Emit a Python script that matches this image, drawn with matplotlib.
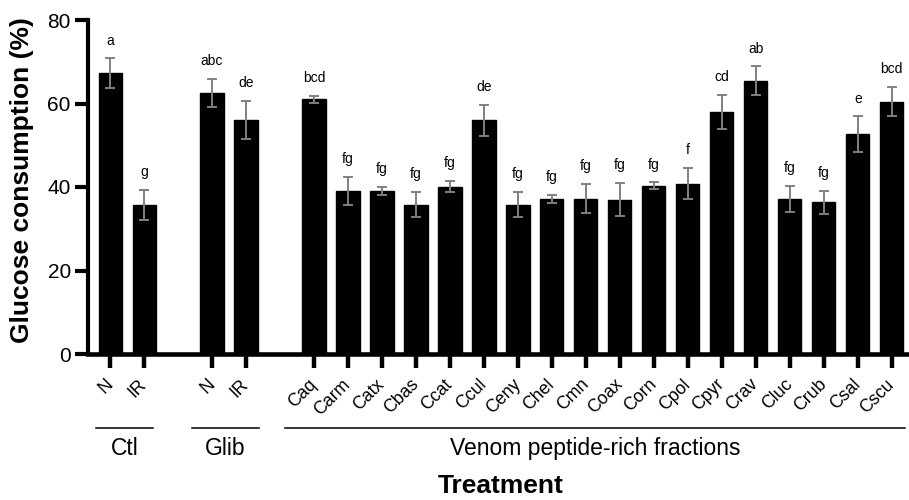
import numpy as np
import matplotlib
matplotlib.use("Agg")
import matplotlib.pyplot as plt
from matplotlib.transforms import blended_transform_factory

plt.rcParams["font.family"] = ["Liberation Sans", "DejaVu Sans"]

# ─── data ─────────────────────────────────────────────────────────────────────
labels = ["N", "IR", "N", "IR",
          "Caq", "Carm", "Catx", "Cbas", "Ccat", "Ccul", "Ceny", "Chel", "Cmn",
          "Coax", "Corn", "Cpol", "Cpyr", "Crav", "Cluc", "Crub", "Csal", "Cscu"]
means = [67.2, 35.8, 62.5, 56.1,
         61.0, 39.0, 39.0, 35.8, 40.1, 56.0, 35.8, 37.1, 37.2,
         37.0, 40.3, 40.8, 58.0, 65.5, 37.2, 36.3, 52.6, 60.4]
errs = [3.6, 3.6, 3.4, 4.5,
        0.8, 3.4, 1.0, 3.1, 1.4, 3.7, 3.1, 1.0, 3.5,
        4.0, 0.8, 3.7, 4.0, 3.4, 3.1, 2.7, 4.3, 3.5]
letters = ["a", "g", "abc", "de",
           "bcd", "fg", "fg", "fg", "fg", "de", "fg", "fg", "fg",
           "fg", "fg", "f", "cd", "ab", "fg", "fg", "e", "bcd"]
groups = ["Ctl", "Glib", "Venom peptide-rich fractions"]

# positions: gap of one slot between groups
pos = np.array([0, 1, 3, 4] + list(range(6, 24)), dtype=float)

fig = plt.figure(figsize=(9.09, 5.0), dpi=100)
ax = fig.add_axes([0.0968, 0.292, 0.903, 0.668])

ax.bar(pos, means, width=0.68, color="black", edgecolor="black", zorder=2)
ax.errorbar(pos, means, yerr=errs, fmt="none", ecolor="#808080",
            elinewidth=1.4, capsize=3.4, capthick=1.4, zorder=3)

for x, m, e, t in zip(pos, means, errs, letters):
    ax.text(x, m + e + 3.3, t, ha="center", va="baseline", fontsize=10)

ax.set_xlim(-0.65, 23.5)
ax.set_ylim(0, 80)
ax.set_yticks([0, 20, 40, 60, 80])
ax.tick_params(axis="y", labelsize=15, width=3, length=9.4, pad=3)
ax.set_xticks(pos)
ax.set_xticklabels(labels, rotation=45, ha="right", va="center",
                   rotation_mode="anchor", fontsize=12.8)
ax.tick_params(axis="x", width=3.2, length=10, pad=10)

for side in ["top", "right"]:
    ax.spines[side].set_visible(False)
ax.spines["left"].set_linewidth(3)
ax.spines["bottom"].set_linewidth(3.3)

ax.set_ylabel("Glucose consumption (%)", fontsize=19, fontweight="bold")
ax.yaxis.set_label_coords(-0.066, 0.52)

# group underlines and names
tr = blended_transform_factory(ax.transData, fig.transFigure)
spans = [(-0.42, 1.27), (2.4, 4.38), (5.15, 23.4)]
for (x0, x1), g in zip(spans, groups):
    ax.plot([x0, x1], [0.1447, 0.1447], color="black", lw=1.1,
            transform=tr, clip_on=False)
    ax.text((x0 + x1) / 2, 0.09, g, transform=tr, ha="center", va="baseline",
            fontsize=16.5)

fig.text(0.551, 0.014, "Treatment", ha="center", va="baseline",
         fontsize=19, fontweight="bold")

fig.savefig("out.png", dpi=100)
